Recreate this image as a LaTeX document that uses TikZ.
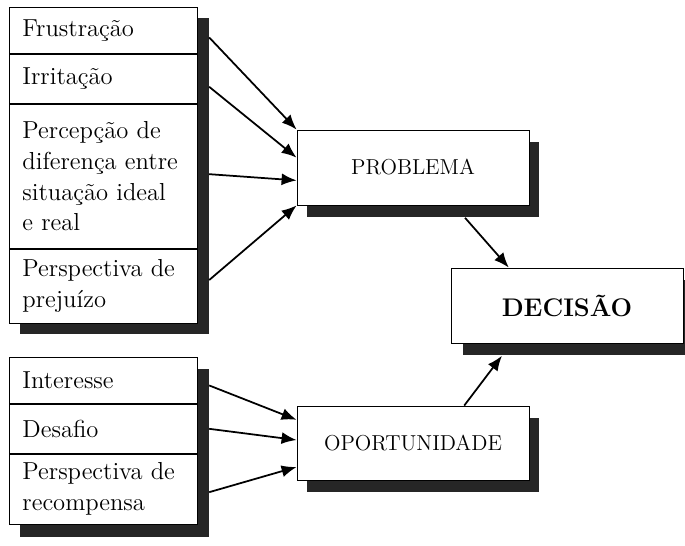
\documentclass[tikz,border=0pt]{standalone}
\usepackage{fontspec}
\usepackage{tikz}
\usetikzlibrary{positioning,
                calc,
                fit,
                backgrounds,
                arrows.meta}

\begin{document}
\begin{tikzpicture}[x=0.02cm,y=-0.02cm,
  item/.style={draw,line width=0.5pt,fill=white,minimum width=3.76cm,text width=3.24cm,
    inner xsep=0.26cm,inner ysep=0pt,align=left,anchor=north west,
    font=\fontsize{14}{17.6}\selectfont},
  caixa/.style={draw,line width=0.5pt,fill=white,minimum width=4.64cm,minimum height=1.5cm,
    font=\fontsize{12.3}{14}\selectfont},
  sombra/.style={fill=black!85,draw=none,inner sep=0pt},
  seta/.style={-{Latex[length=3mm,width=2.4mm]},line width=1pt}]
\useasboundingbox (0,0) rectangle (685,545);
% causas do problema
\node[item,minimum height=0.92cm] (frust) at (9,7) {Frustração};
\node[item,minimum height=0.98cm,below=0cm of frust] (irrit) {Irritação};
\node[item,minimum height=2.88cm,below=0cm of irrit] (percep) {Percepção de\\diferença entre\\situação ideal\\e real};
\node[item,minimum height=1.48cm,below=0cm of percep] (prejuizo) {Perspectiva de\\prejuízo};
% causas da oportunidade
\node[item,minimum height=0.92cm] (inter) at (9,357) {Interesse};
\node[item,minimum height=0.98cm,below=0cm of inter] (desafio) {Desafio};
\node[item,minimum height=1.40cm,below=0cm of desafio] (recomp) {Perspectiva de\\recompensa};
% caixas da direita
\node[caixa] (prob) at (413,167.5) {PROBLEMA};
\node[caixa,font=\fontsize{14.5}{16}\selectfont\bfseries] (dec) at (567,305.5) {DECISÃO};
\node[caixa,minimum height=1.48cm] (oport) at (413,443) {OPORTUNIDADE};
% sombras
\begin{scope}[on background layer]
\node[sombra,fit=(frust)(prejuizo),xshift=0.22cm,yshift=-0.22cm] (sombraA) {};
\node[sombra,fit=(inter)(recomp),xshift=0.22cm,yshift=-0.24cm] (sombraB) {};
\node[sombra,fit=(prob),xshift=0.2cm,yshift=-0.24cm] (sombraP) {};
\node[sombra,fit=(dec),xshift=0.24cm,yshift=-0.24cm] (sombraD) {};
\node[sombra,fit=(oport),xshift=0.2cm,yshift=-0.24cm] (sombraO) {};
\end{scope}
% setas
\draw[seta] ($(frust.east -| sombraA.east)+(0,7)$) -- (prob.north west);
\draw[seta] ($(irrit.east -| sombraA.east)+(0,8)$) -- ($(prob.north west)!0.37!(prob.south west)$);
\draw[seta] ($(percep.east -| sombraA.east)+(0,-2)$) -- ($(prob.north west)!0.67!(prob.south west)$);
\draw[seta] ($(prejuizo.east -| sombraA.east)+(0,-6)$) -- (prob.south west);
\draw[seta] ($(inter.east -| sombraB.east)+(0,5)$) -- ($(oport.north west)!0.19!(oport.south west)$);
\draw[seta] (desafio.east -| sombraB.east) -- ($(oport.north west)!0.46!(oport.south west)$);
\draw[seta] ($(recomp.east -| sombraB.east)+(0,3)$) -- ($(oport.north west)!0.82!(oport.south west)$);
\draw[seta] ($(sombraP.south west)!0.68!(sombraP.south east)$) -- ($(dec.north west)!0.25!(dec.north east)$);
\draw[seta] ($(oport.north west)!0.72!(oport.north east)$) -- ($(sombraD.south west)!0.17!(sombraD.south east)$);
\end{tikzpicture}
\end{document}
